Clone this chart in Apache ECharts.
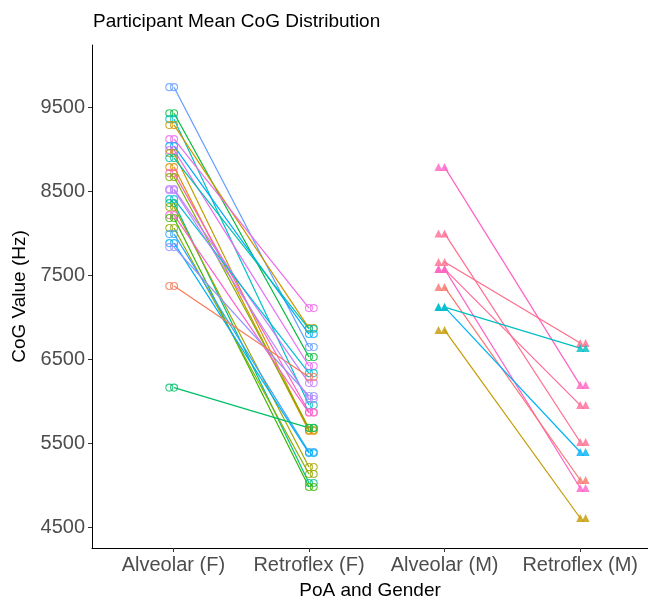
<!DOCTYPE html>
<html>
<head>
<meta charset="utf-8">
<script src="https://cdn.jsdelivr.net/npm/echarts@6/dist/echarts.min.js"></script>
<style>html,body{margin:0;padding:0;background:#fff;}#c{width:648px;height:599px;}</style>
</head>
<body>
<div id="c"></div>
<script>
const categories = ['Alveolar (F)', 'Retroflex (F)', 'Alveolar (M)', 'Retroflex (M)'];
const yTicks = [4500, 5500, 6500, 7500, 8500, 9500];

const femaleAlveolar = [9738, 9428, 9357, 9286, 9119, 9036, 8988, 8952, 8893, 8786, 8714, 8667, 8524, 8405, 8357, 8310, 8214, 8179, 8060, 7988, 7881, 7833, 7370, 6160, 8510];
const femaleRetroflex = [6643, 6524, 5952, 6869, 7107, 6798, 6417, 5655, 6860, 5643, 5869, 5679, 6214, 6333, 5024, 5214, 5860, 4976, 5131, 5393, 5380, 6060, 6286, 5680, 6024];
const femaleColors = ['#619CFF', '#00BA38', '#00BFC4', '#CD9600', '#F066EA', '#00A9FF', '#E76BF3', '#C49A00', '#00C1AA', '#DE8C00', '#FF62BC', '#7CAE00', '#C77CFF', '#00BCD6', '#00C08B', '#A3A500', '#FD61D1', '#39B600', '#8FAA00', '#35A2FF', '#00B0F6', '#9590FF', '#F37B59', '#00BE67', '#B983FF'];

const maleAlveolar = [8786, 7996, 7655, 7571, 7571, 7357, 7119, 7119, 6845];
const maleRetroflex = [6190, 5512, 6690, 5952, 4964, 5060, 5393, 6631, 4607];
const maleColors = ['#FF61C3', '#FF6C91', '#FC6D8A', '#FF6A98', '#FF61C9', '#F8766D', '#00B0F6', '#00BFC4', '#C49A00'];

const FONT = 'Liberation Sans, Arial, sans-serif';
const series = [];

function addGroup(alv, ret, cols, xa, xr, symbol, size, filled, dupA, dupR) {
  const pts = [];
  for (let i = 0; i < alv.length; i++) {
    series.push({
      type: 'line', data: [[xa, alv[i]], [xr, ret[i]]], showSymbol: false, silent: true,
      lineStyle: { color: cols[i], width: 1.2 }, z: 2
    });
    const st = filled
      ? { color: cols[i] }
      : { color: 'rgba(0,0,0,0)', borderColor: cols[i], borderWidth: 1.1 };
    pts.push({ value: [xa + dupA, alv[i]], itemStyle: st });
    pts.push({ value: [xa, alv[i]], itemStyle: st });
    pts.push({ value: [xr + dupR, ret[i]], itemStyle: st });
    pts.push({ value: [xr, ret[i]], itemStyle: st });
  }
  series.push({ type: 'scatter', data: pts, symbol: symbol, symbolSize: size, z: 3, silent: true });
}

addGroup(femaleAlveolar, femaleRetroflex, femaleColors, 1.005, 2.0, 'circle', 7, false, -0.035, 0.035);
addGroup(maleAlveolar, maleRetroflex, maleColors, 3.0, 4.0, 'triangle', 8, true, -0.045, 0.04);

const chart = echarts.init(document.getElementById('c'), null, { renderer: 'canvas' });
chart.setOption({
  animation: false,
  backgroundColor: '#fff',
  title: {
    text: 'Participant Mean CoG Distribution', left: 88, top: 7,
    textStyle: { fontFamily: FONT, fontSize: 19, fontWeight: 'normal', color: '#000' }
  },
  grid: { left: 92, top: 45, width: 556, height: 503, outerBoundsMode: 'none', containLabel: false },
  xAxis: {
    type: 'value', min: 0.4, max: 4.5,
    splitLine: { show: false },
    axisLine: { onZero: false, lineStyle: { color: '#000', width: 1 } },
    axisTick: { customValues: [1, 2, 3, 4], length: 4, lineStyle: { color: '#333' } },
    axisLabel: {
      customValues: [1, 2, 3, 4], formatter: v => categories[Math.round(v) - 1],
      color: '#4D4D4D', fontSize: 20, fontFamily: FONT, margin: 7
    },
    name: 'PoA and Gender', nameLocation: 'middle', nameGap: 33,
    nameTextStyle: { color: '#000', fontSize: 19, fontFamily: FONT }
  },
  yAxis: {
    type: 'value', min: 4250, max: 10240,
    splitLine: { show: false },
    axisLine: { show: true, onZero: false, lineStyle: { color: '#000', width: 1 } },
    axisTick: { show: true, customValues: yTicks, length: 4, lineStyle: { color: '#333' } },
    axisLabel: { customValues: yTicks, formatter: v => String(v), color: '#4D4D4D', fontSize: 20, fontFamily: FONT, margin: 7 },
    name: 'CoG Value (Hz)', nameLocation: 'middle', nameGap: 51, nameRotate: 90,
    nameTextStyle: { color: '#000', fontSize: 19, fontFamily: FONT }
  },
  series: series
});
</script>
</body>
</html>
